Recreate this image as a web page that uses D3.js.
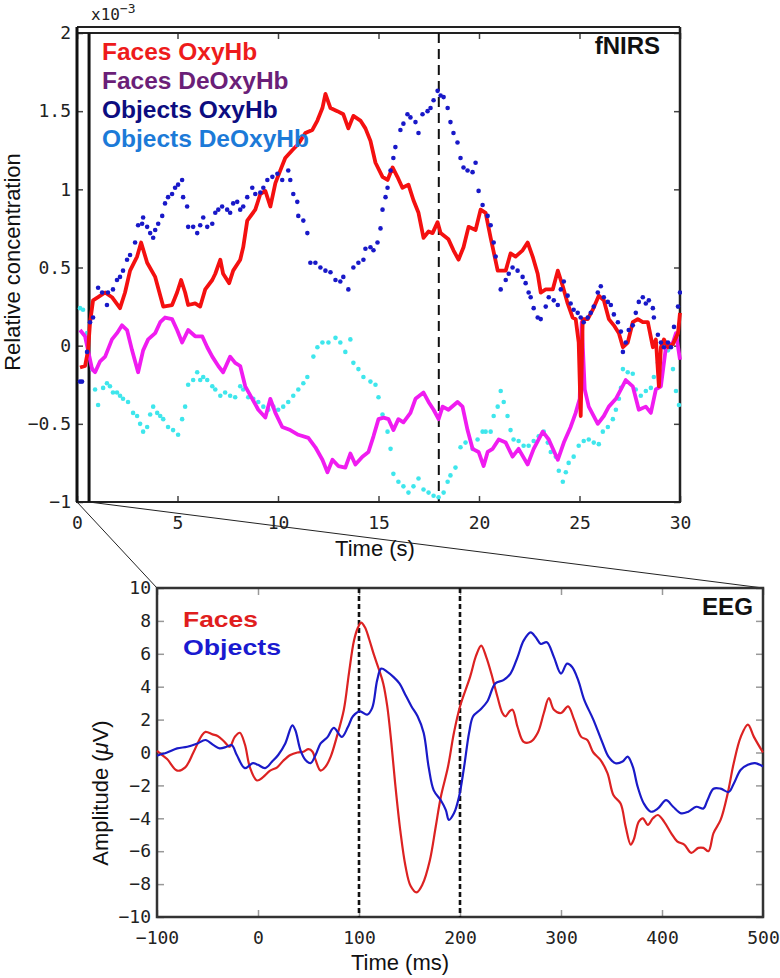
<!DOCTYPE html>
<html><head><meta charset="utf-8">
<script src="https://cdn.jsdelivr.net/npm/d3@7"></script>
<style>body{margin:0;background:#fff}svg{display:block}</style>
</head><body>
<script>
// ---------------- DATA ----------------
// fNIRS panel (time in s, concentration in 1e-3 units)
const nirsTicksX = [0,5,10,15,20,25,30];
const nirsTicksY = [-1,-0.5,0,0.5,1,1.5,2];
const nirsLegend = ["Faces OxyHb","Faces DeOxyHb","Objects OxyHb","Objects DeOxyHb"];
const nirsStim = 18;
const eegWindowEnd = 0.6;

const facesOxy = [[0.15,-0.14],[0.40,-0.13],[0.55,-0.03],[0.65,0.15],[0.80,0.29],[1.05,0.31],[1.40,0.34],[1.74,0.31],[2.14,0.24],[2.39,0.34],[2.64,0.48],[2.99,0.57],[3.19,0.66],[3.49,0.53],[3.89,0.44],[4.29,0.25],[4.73,0.26],[4.98,0.34],[5.18,0.42],[5.38,0.34],[5.53,0.26],[5.88,0.27],[6.13,0.25],[6.38,0.36],[6.73,0.42],[6.88,0.46],[7.13,0.55],[7.27,0.46],[7.57,0.40],[7.77,0.48],[8.12,0.55],[8.27,0.63],[8.47,0.80],[8.87,0.87],[9.12,0.97],[9.37,0.99],[9.62,0.89],[9.87,1.04],[10.11,1.12],[10.36,1.20],[10.71,1.25],[11.01,1.29],[11.36,1.36],[11.71,1.38],[11.96,1.44],[12.21,1.52],[12.36,1.61],[12.61,1.52],[12.95,1.50],[13.25,1.48],[13.50,1.39],[13.75,1.47],[14.10,1.44],[14.35,1.39],[14.60,1.31],[14.85,1.17],[15.20,1.08],[15.45,1.06],[15.70,1.14],[15.94,1.08],[16.19,1.01],[16.49,1.03],[16.74,0.93],[16.99,0.85],[17.24,0.69],[17.49,0.73],[17.69,0.72],[17.94,0.79],[18.09,0.72],[18.48,0.68],[18.73,0.61],[18.98,0.55],[19.23,0.63],[19.48,0.76],[19.83,0.74],[20.08,0.87],[20.33,0.85],[20.58,0.69],[20.93,0.48],[21.33,0.48],[21.57,0.59],[21.82,0.57],[22.17,0.61],[22.42,0.66],[22.67,0.57],[22.92,0.46],[23.07,0.34],[23.32,0.36],[23.67,0.36],[23.92,0.48],[24.17,0.38],[24.41,0.27],[24.66,0.18],[24.81,0.17],[24.96,0.02],[25.06,-0.45],[25.16,0.17],[25.41,0.17],[25.66,0.23],[25.96,0.32],[26.21,0.29],[26.46,0.17],[26.71,0.13],[26.96,0.08],[27.16,-0.01],[27.40,0.02],[27.65,0.15],[27.90,0.17],[28.15,0.15],[28.40,0.15],[28.65,-0.01],[28.80,0.04],[28.95,-0.26],[29.05,-0.01],[29.20,0.04],[29.40,-0.01],[29.65,0.01],[29.90,0.08],[30.0,0.21]];

const facesDeoxy = [[0.15,0.10],[0.40,0.06],[0.55,-0.03],[0.75,-0.15],[0.90,-0.17],[1.15,-0.10],[1.40,-0.07],[1.74,0.04],[1.99,0.08],[2.24,0.13],[2.49,0.10],[2.74,-0.03],[3.04,-0.17],[3.29,-0.03],[3.54,0.04],[3.89,0.08],[4.14,0.15],[4.38,0.18],[4.73,0.17],[4.98,0.10],[5.23,0.02],[5.53,0.10],[5.88,0.06],[6.23,0.06],[6.48,-0.01],[6.73,-0.07],[7.03,-0.13],[7.27,-0.17],[7.62,-0.07],[7.87,-0.11],[8.12,-0.13],[8.37,-0.26],[8.72,-0.34],[9.02,-0.41],[9.37,-0.46],[9.62,-0.34],[9.87,-0.43],[10.21,-0.52],[10.61,-0.54],[11.01,-0.57],[11.51,-0.59],[11.86,-0.65],[12.21,-0.73],[12.46,-0.81],[12.71,-0.73],[13.00,-0.77],[13.35,-0.78],[13.60,-0.69],[13.85,-0.76],[14.20,-0.71],[14.50,-0.68],[14.75,-0.58],[15.00,-0.47],[15.25,-0.46],[15.50,-0.47],[15.74,-0.54],[15.99,-0.47],[16.24,-0.49],[16.59,-0.43],[16.84,-0.34],[17.24,-0.30],[17.49,-0.36],[17.74,-0.41],[17.99,-0.47],[18.19,-0.39],[18.48,-0.41],[18.93,-0.36],[19.18,-0.39],[19.43,-0.54],[19.68,-0.66],[19.98,-0.68],[20.23,-0.77],[20.43,-0.68],[20.68,-0.66],[20.98,-0.60],[21.33,-0.62],[21.67,-0.71],[21.97,-0.66],[22.42,-0.76],[22.72,-0.66],[23.17,-0.55],[23.47,-0.60],[23.92,-0.73],[24.22,-0.62],[24.56,-0.52],[24.81,-0.43],[25.01,-0.34],[25.11,0.15],[25.26,-0.28],[25.46,-0.39],[25.91,-0.50],[26.21,-0.45],[26.46,-0.39],[26.81,-0.34],[27.06,-0.28],[27.30,-0.22],[27.65,-0.26],[27.95,-0.41],[28.30,-0.39],[28.55,-0.43],[28.80,-0.28],[29.05,-0.26],[29.30,-0.01],[29.65,0.02],[29.80,0.08],[30.0,-0.09]];

const objectsOxy = [[0.15,-0.23],[0.25,-0.23],[0.50,-0.04],[0.65,0.15],[0.80,0.18],[1.05,0.37],[1.25,0.34],[1.49,0.26],[1.54,0.34],[1.79,0.36],[1.99,0.42],[2.14,0.44],[2.29,0.48],[2.49,0.55],[2.64,0.58],[2.89,0.66],[3.04,0.77],[3.24,0.78],[3.29,0.82],[3.49,0.76],[3.64,0.72],[3.79,0.69],[3.89,0.74],[4.04,0.78],[4.24,0.83],[4.38,0.91],[4.53,0.95],[4.73,0.97],[4.88,1.01],[5.03,1.03],[5.23,1.06],[5.28,0.95],[5.48,0.89],[5.53,0.76],[5.78,0.76],[5.98,0.72],[6.13,0.77],[6.28,0.82],[6.48,0.76],[6.73,0.78],[6.88,0.85],[7.03,0.87],[7.22,0.89],[7.47,0.87],[7.62,0.85],[7.77,0.91],[7.97,0.92],[8.12,0.87],[8.27,0.89],[8.47,0.95],[8.72,1.01],[8.87,0.97],[9.12,0.98],[9.27,1.01],[9.47,1.06],[9.72,1.08],[9.97,1.10],[10.21,1.06],[10.51,1.12],[10.61,1.06],[10.76,0.97],[10.96,0.92],[11.01,0.83],[11.26,0.80],[11.46,0.72],[11.61,0.53],[11.86,0.53],[12.11,0.50],[12.36,0.48],[12.61,0.47],[12.86,0.42],[13.10,0.41],[13.25,0.44],[13.50,0.36],[13.75,0.50],[14.00,0.53],[14.25,0.55],[14.35,0.62],[14.60,0.63],[14.75,0.61],[14.95,0.66],[15.10,0.75],[15.20,0.87],[15.35,0.95],[15.45,1.01],[15.60,1.12],[15.74,1.20],[15.84,1.27],[16.09,1.38],[16.24,1.42],[16.44,1.48],[16.59,1.46],[16.84,1.43],[16.99,1.36],[17.19,1.48],[17.44,1.50],[17.59,1.52],[17.74,1.57],[17.94,1.63],[18.09,1.60],[18.24,1.59],[18.44,1.52],[18.58,1.43],[18.73,1.36],[18.93,1.30],[19.08,1.20],[19.23,1.14],[19.43,1.12],[19.68,1.11],[19.83,1.17],[19.98,0.99],[20.18,0.90],[20.43,0.83],[20.58,0.77],[20.73,0.66],[20.83,0.57],[21.08,0.36],[21.33,0.42],[21.48,0.46],[21.67,0.50],[21.92,0.48],[22.17,0.44],[22.32,0.40],[22.47,0.34],[22.57,0.31],[22.72,0.24],[22.92,0.18],[23.07,0.17],[23.32,0.25],[23.47,0.31],[23.72,0.29],[23.92,0.26],[24.07,0.36],[24.22,0.41],[24.41,0.32],[24.56,0.27],[24.71,0.23],[24.91,0.21],[25.06,0.18],[25.21,0.15],[25.41,0.18],[25.56,0.21],[25.71,0.25],[25.91,0.34],[26.06,0.38],[26.21,0.31],[26.41,0.28],[26.56,0.26],[26.71,0.20],[26.91,0.15],[27.06,0.09],[27.16,-0.04],[27.30,0.02],[27.45,0.10],[27.65,0.13],[27.80,0.21],[27.95,0.28],[28.15,0.31],[28.30,0.27],[28.45,0.29],[28.65,0.24],[28.70,0.18],[28.90,0.07],[29.05,0.02],[29.20,-0.01],[29.40,0.02],[29.55,-0.01],[29.70,0.12],[29.90,0.25],[30.0,0.34]];

const objectsDeoxy = [[0.15,0.24],[0.30,0.23],[0.50,0.08],[0.75,-0.15],[0.90,-0.28],[1.05,-0.38],[1.30,-0.27],[1.49,-0.24],[1.64,-0.26],[1.79,-0.30],[1.99,-0.30],[2.14,-0.32],[2.29,-0.34],[2.54,-0.36],[2.79,-0.43],[2.99,-0.45],[3.14,-0.50],[3.29,-0.55],[3.49,-0.52],[3.64,-0.44],[3.79,-0.39],[3.99,-0.43],[4.14,-0.45],[4.29,-0.47],[4.53,-0.52],[4.78,-0.54],[5.03,-0.57],[5.23,-0.47],[5.38,-0.39],[5.53,-0.25],[5.78,-0.22],[5.98,-0.17],[6.13,-0.22],[6.28,-0.20],[6.48,-0.22],[6.73,-0.26],[6.88,-0.28],[7.13,-0.32],[7.37,-0.30],[7.62,-0.32],[7.87,-0.33],[8.12,-0.26],[8.27,-0.28],[8.52,-0.33],[8.77,-0.34],[9.02,-0.36],[9.27,-0.39],[9.52,-0.41],[9.77,-0.39],[10.01,-0.41],[10.26,-0.39],[10.51,-0.36],[10.76,-0.32],[11.01,-0.28],[11.26,-0.24],[11.46,-0.20],[11.76,-0.07],[11.96,-0.01],[12.21,0.02],[12.51,0.02],[12.86,0.05],[13.10,0.02],[13.35,-0.04],[13.60,0.04],[13.75,-0.11],[14.00,-0.15],[14.25,-0.20],[14.60,-0.23],[14.85,-0.25],[15.00,-0.33],[15.20,-0.44],[15.45,-0.55],[15.60,-0.66],[15.74,-0.82],[15.99,-0.87],[16.24,-0.90],[16.49,-0.94],[16.74,-0.90],[16.99,-0.85],[17.24,-0.92],[17.49,-0.94],[17.74,-0.96],[17.99,-0.97],[18.24,-0.94],[18.44,-0.87],[18.58,-0.83],[18.83,-0.78],[19.08,-0.65],[19.33,-0.62],[19.68,-0.66],[19.93,-0.60],[20.18,-0.55],[20.33,-0.55],[20.58,-0.55],[20.73,-0.45],[20.93,-0.39],[21.08,-0.29],[21.23,-0.36],[21.42,-0.45],[21.57,-0.54],[21.72,-0.60],[21.97,-0.61],[22.22,-0.64],[22.47,-0.64],[22.72,-0.61],[22.97,-0.58],[23.22,-0.55],[23.42,-0.62],[23.57,-0.68],[23.82,-0.71],[23.97,-0.80],[24.17,-0.87],[24.32,-0.81],[24.46,-0.75],[24.71,-0.71],[24.96,-0.64],[25.21,-0.61],[25.46,-0.60],[25.71,-0.62],[25.96,-0.63],[26.16,-0.55],[26.41,-0.52],[26.66,-0.47],[26.81,-0.41],[26.96,-0.34],[27.06,-0.27],[27.16,-0.15],[27.40,-0.17],[27.65,-0.18],[27.80,-0.28],[28.05,-0.32],[28.30,-0.29],[28.55,-0.27],[28.70,-0.20],[28.90,-0.11],[29.15,0.02],[29.40,-0.03],[29.65,-0.15],[29.80,-0.29],[29.95,-0.38]];

// EEG panel (time in ms, amplitude in µV)
const eegTicksX = [-100,0,100,200,300,400,500];
const eegTicksY = [-10,-8,-6,-4,-2,0,2,4,6,8,10];
const eegLegend = ["Faces","Objects"];
const eegMarkers = [100,200];

const eegFaces = [[-100,0.1],[-98,0.0],[-90,-0.4],[-80,-1.1],[-72,-0.9],[-64,0.0],[-56,1.0],[-52,1.25],[-45,1.1],[-40,1.0],[-34,0.7],[-28,0.35],[-23,0.95],[-18,1.2],[-13,0.5],[-8,-0.9],[-1,-1.7],[5,-1.5],[12,-1.1],[19,-0.9],[25,-0.5],[32,-0.15],[39,0.0],[45,0.05],[50,0.2],[54,0.05],[57,-0.45],[62,-1.1],[67,-0.85],[72,-0.25],[78,0.95],[85,2.6],[90,4.8],[95,6.8],[99,7.6],[102,7.9],[106,7.6],[110,6.9],[115,5.9],[120,5.0],[124,4.2],[128,2.8],[132,0.6],[136,-2.0],[141,-4.8],[146,-6.9],[151,-8.1],[157,-8.5],[163,-8.0],[170,-6.6],[176,-4.5],[181,-2.7],[188,-0.9],[194,1.2],[200,2.8],[210,4.6],[216,5.9],[221,6.5],[226,5.8],[231,4.8],[237,3.4],[242,2.4],[245,2.2],[249,2.5],[252,2.6],[257,1.55],[263,0.65],[270,0.65],[277,1.2],[283,2.4],[288,3.3],[293,2.6],[300,2.4],[307,2.8],[313,2.0],[320,0.95],[326,0.76],[332,0.0],[339,-0.45],[346,-1.25],[352,-2.6],[359,-3.1],[364,-4.5],[369,-5.6],[372,-5.3],[377,-4.2],[381,-4.0],[386,-4.4],[391,-4.0],[396,-3.8],[402,-4.2],[409,-4.9],[415,-5.4],[422,-5.6],[429,-6.1],[436,-5.8],[441,-5.8],[446,-6.0],[451,-4.9],[458,-4.1],[465,-2.5],[471,-0.65],[478,0.95],[485,1.7],[491,0.95],[500,0.0]];

const eegObjects = [[-100,-0.2],[-98,-0.15],[-90,0.0],[-80,0.25],[-70,0.35],[-60,0.55],[-52,0.76],[-44,0.45],[-38,0.25],[-31,0.35],[-26,0.45],[-21,-0.15],[-13,-0.95],[-5,-0.65],[0,-0.75],[7,-0.95],[14,-0.55],[20,-0.15],[27,0.55],[34,1.65],[37,1.35],[42,0.15],[47,-0.45],[52,-0.65],[57,-0.15],[62,0.55],[69,0.95],[75,1.5],[83,0.95],[89,1.55],[94,2.2],[101,2.5],[108,2.3],[113,2.7],[118,4.4],[122,5.1],[128,4.9],[134,4.6],[140,4.2],[146,3.5],[152,2.8],[158,2.2],[164,1.2],[169,-0.9],[174,-2.3],[181,-2.9],[186,-3.5],[189,-4.1],[194,-3.7],[199,-2.7],[204,-0.9],[209,1.2],[213,2.2],[220,2.6],[227,3.1],[235,4.2],[243,4.4],[250,4.8],[257,5.8],[263,6.8],[270,7.3],[275,7.0],[280,6.6],[286,6.7],[293,5.8],[300,4.8],[306,5.4],[311,5.2],[317,4.4],[323,3.2],[332,2.0],[341,0.6],[347,-0.25],[354,-0.65],[361,-0.55],[366,-0.25],[371,-0.85],[376,-2.1],[382,-3.1],[389,-3.6],[396,-3.4],[404,-2.9],[411,-3.3],[419,-3.7],[426,-3.6],[434,-3.3],[441,-3.4],[445,-2.9],[451,-2.2],[458,-2.2],[466,-2.4],[471,-1.9],[478,-1.05],[485,-0.75],[492,-0.65],[500,-0.85]];

// ---------------- DRAW ----------------
const W = 780, H = 978;
const svg = d3.select("body").append("svg").attr("width", W).attr("height", H);
const mono = "'DejaVu Sans Mono', monospace";
const sans = "'Liberation Sans', Arial, sans-serif";

// ---- fNIRS panel ----
const x1 = d3.scaleLinear().domain([0,30]).range([77,680]);
const y1 = d3.scaleLinear().domain([-1,2]).range([502,33]);
const g1 = svg.append("g");

// connector lines to EEG panel
const x2 = d3.scaleLinear().domain([-100,500]).range([157,763]);
const y2 = d3.scaleLinear().domain([-10,10]).range([917,588]);
svg.append("line").attr("x1",x1(0)).attr("y1",y1(-1)).attr("x2",x2(-100)).attr("y2",y2(10)).attr("stroke","#222").attr("stroke-width",1);
svg.append("line").attr("x1",x1(eegWindowEnd)).attr("y1",y1(-1)).attr("x2",x2(500)).attr("y2",y2(10)).attr("stroke","#222").attr("stroke-width",1);

svg.append("clipPath").attr("id","c1").append("rect")
  .attr("x",x1(0)).attr("y",y1(2)).attr("width",x1(30)-x1(0)+2).attr("height",y1(-1)-y1(2));

// axes ticks (inward)
const axB = d3.axisBottom(x1).tickValues(nirsTicksX).tickSize(-6).tickPadding(14).tickFormat(d3.format("d"));
const gB = g1.append("g").attr("transform",`translate(0,${y1(-1)})`).call(axB);
const axL = d3.axisLeft(y1).tickValues(nirsTicksY).tickSize(-6).tickPadding(6)
  .tickFormat(d => (d<0?"\u2212":"") + Math.abs(d));
const gL = g1.append("g").attr("transform",`translate(${x1(0)},0)`).call(axL);
const gT = g1.append("g").attr("transform",`translate(0,${y1(2)})`).call(d3.axisTop(x1).tickValues(nirsTicksX).tickSize(-6).tickFormat(""));
const gR = g1.append("g").attr("transform",`translate(${x1(30)},0)`).call(d3.axisRight(y1).tickValues(nirsTicksY).tickSize(-6).tickFormat(""));
[gB,gL,gT,gR].forEach(g=>{g.select(".domain").remove(); g.selectAll(".tick line").attr("stroke","#444").attr("stroke-width",1.5);
  g.selectAll("text").attr("font-family",mono).attr("font-size",18).attr("fill","#222");});
gB.selectAll("text").attr("dy","0.71em");

// frame
g1.append("line").attr("x1",x1(0)).attr("x2",x1(30)).attr("y1",y1(2)-6).attr("y2",y1(2)-6).attr("stroke","#222").attr("stroke-width",2);
g1.append("rect").attr("x",x1(0)).attr("y",y1(2)).attr("width",x1(30)-x1(0)).attr("height",y1(-1)-y1(2))
  .attr("fill","none").attr("stroke","#222").attr("stroke-width",2);
g1.append("line").attr("x1",x1(0)).attr("x2",x1(0)).attr("y1",y1(2)-6).attr("y2",y1(-1)).attr("stroke","#111").attr("stroke-width",3);
g1.append("line").attr("x1",x1(30)).attr("x2",x1(30)).attr("y1",y1(2)-6).attr("y2",y1(-1)).attr("stroke","#222").attr("stroke-width",2.5);
g1.append("line").attr("x1",x1(eegWindowEnd)).attr("x2",x1(eegWindowEnd)).attr("y1",y1(2)).attr("y2",y1(-1)).attr("stroke","#111").attr("stroke-width",3);

// stimulus line
g1.append("line").attr("x1",x1(nirsStim)).attr("x2",x1(nirsStim)).attr("y1",y1(2)).attr("y2",y1(-1))
  .attr("stroke","#111").attr("stroke-width",2).attr("stroke-dasharray","10,6");

const plot1 = g1.append("g").attr("clip-path","url(#c1)");
const line1 = d3.line().x(d=>x1(d[0])).y(d=>y1(d[1]));
plot1.append("g").selectAll("circle").data(objectsDeoxy).join("circle")
  .attr("cx",d=>x1(d[0])).attr("cy",d=>y1(d[1])).attr("r",2.3).attr("fill","#3ee6ec");
plot1.append("path").datum(facesDeoxy).attr("d",line1).attr("fill","none").attr("stroke","#f01cf0").attr("stroke-width",3.8).attr("stroke-linejoin","round");
plot1.append("path").datum(facesOxy).attr("d",line1).attr("fill","none").attr("stroke","#f41010").attr("stroke-width",3.8).attr("stroke-linejoin","round");
plot1.append("g").selectAll("circle").data(objectsOxy).join("circle")
  .attr("cx",d=>x1(d[0])).attr("cy",d=>y1(d[1])).attr("r",2.3).attr("fill","#1818c8");

// legend
const legColors1 = ["#ee1b1b","#6b1f78","#0d0d80","#1c7ad8"];
nirsLegend.forEach((t,i)=>{
  g1.append("text").attr("x",102).attr("y",60+i*29).text(t)
    .attr("font-family",sans).attr("font-weight","bold").attr("font-size",24.5).attr("fill",legColors1[i]);
});
g1.append("text").attr("x",660).attr("y",54).attr("text-anchor","end").text("fNIRS")
  .attr("font-family",sans).attr("font-weight","bold").attr("font-size",24).attr("fill","#111");

// labels
const ex = g1.append("text").attr("x",91).attr("y",20).attr("font-family",mono).attr("font-size",16).attr("fill","#222");
ex.append("tspan").text("x10");
ex.append("tspan").attr("dy",-7).attr("font-size",13).text("\u22123");
g1.append("text").attr("x",375).attr("y",556).attr("text-anchor","middle").text("Time (s)")
  .attr("font-family",sans).attr("font-size",22).attr("fill","#111");
g1.append("text").attr("transform","translate(20,262) rotate(-90)").attr("text-anchor","middle").text("Relative concentration")
  .attr("font-family",sans).attr("font-size",22).attr("fill","#111");

// ---- EEG panel ----
const g2 = svg.append("g");
const eB = g2.append("g").attr("transform",`translate(0,${y2(-10)})`).call(d3.axisBottom(x2).tickValues(eegTicksX).tickSize(-7).tickPadding(14)
  .tickFormat(d => (d<0?"\u2212":"") + Math.abs(d)));
const eL = g2.append("g").attr("transform",`translate(${x2(-100)},0)`).call(d3.axisLeft(y2).tickValues(eegTicksY).tickSize(-7).tickPadding(6)
  .tickFormat(d => (d<0?"\u2212":"") + Math.abs(d)));
const eT = g2.append("g").attr("transform",`translate(0,${y2(10)})`).call(d3.axisTop(x2).tickValues(eegTicksX).tickSize(-7).tickFormat(""));
const eR = g2.append("g").attr("transform",`translate(${x2(500)},0)`).call(d3.axisRight(y2).tickValues(eegTicksY).tickSize(-7).tickFormat(""));
[eB,eL,eT,eR].forEach(g=>{g.select(".domain").remove(); g.selectAll(".tick line").attr("stroke","#999").attr("stroke-width",1.5);
  g.selectAll("text").attr("font-family",mono).attr("font-size",18).attr("fill","#222");});

g2.append("rect").attr("x",x2(-100)).attr("y",y2(10)).attr("width",x2(500)-x2(-100)).attr("height",y2(-10)-y2(10))
  .attr("fill","none").attr("stroke","#333").attr("stroke-width",2.5);

eegMarkers.forEach(m=>{
  g2.append("line").attr("x1",x2(m)).attr("x2",x2(m)).attr("y1",y2(10)).attr("y2",y2(-10))
    .attr("stroke","#111").attr("stroke-width",2.6).attr("stroke-dasharray","5,3");
});

const line2 = d3.line().x(d=>x2(d[0])).y(d=>y2(d[1])).curve(d3.curveCatmullRom.alpha(0.5));
g2.append("path").datum(eegFaces).attr("d",line2).attr("fill","none").attr("stroke","#dc2222").attr("stroke-width",2.2);
g2.append("path").datum(eegObjects).attr("d",line2).attr("fill","none").attr("stroke","#1a1ac8").attr("stroke-width",2.2);

const legColors2 = ["#e01e1e","#1a1ad0"];
const legW2 = [75,98];
eegLegend.forEach((t,i)=>{
  g2.append("text").attr("x",183).attr("y",627+i*28).text(t)
    .attr("font-family",sans).attr("font-weight","bold").attr("font-size",22).attr("fill",legColors2[i])
    .attr("textLength",legW2[i]).attr("lengthAdjust","spacingAndGlyphs");
});
g2.append("text").attr("x",702).attr("y",615).text("EEG")
  .attr("font-family",sans).attr("font-weight","bold").attr("font-size",24).attr("fill","#111")
  .attr("textLength",51).attr("lengthAdjust","spacingAndGlyphs");

g2.append("text").attr("x",400).attr("y",970).attr("text-anchor","middle").text("Time (ms)")
  .attr("font-family",sans).attr("font-size",22).attr("fill","#111");
const al = g2.append("text").attr("transform","translate(108,793) rotate(-90)").attr("text-anchor","middle")
  .attr("font-family",sans).attr("font-size",22).attr("fill","#111");
al.append("tspan").text("Amplitude (");
al.append("tspan").attr("font-style","italic").text("\u03bc");
al.append("tspan").text("V)");
</script>
</body></html>
